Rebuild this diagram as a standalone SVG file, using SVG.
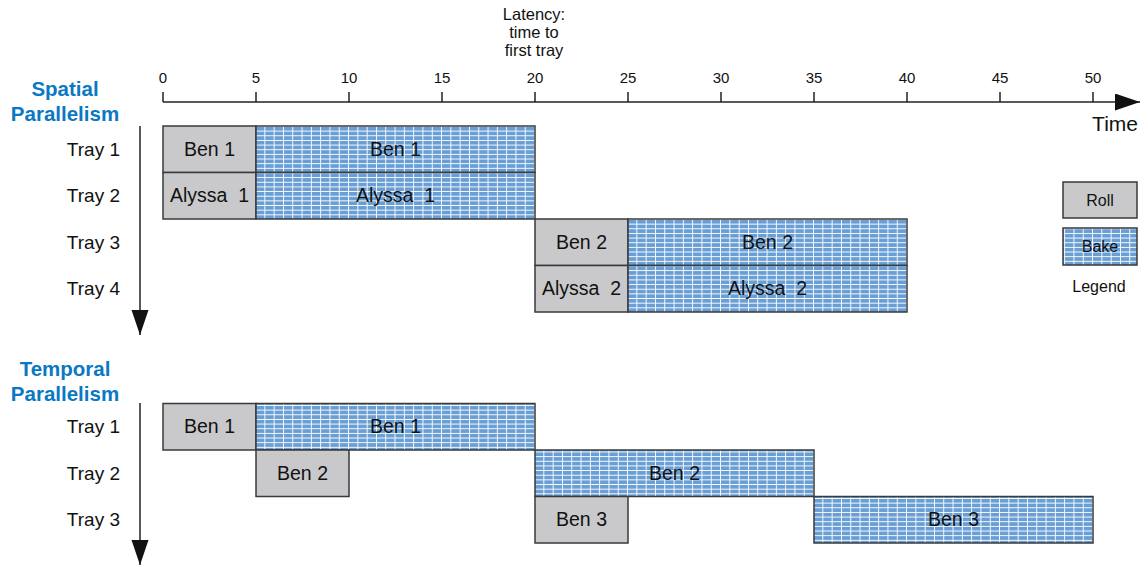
<svg xmlns="http://www.w3.org/2000/svg" width="1148" height="568" viewBox="0 0 1148 568">
<style>
text{font-family:"Liberation Sans",Arial,sans-serif;fill:#111;}
.tick{font-size:15px;text-anchor:middle;}
.tray{font-size:19px;text-anchor:end;}
.lbl{font-size:19.5px;text-anchor:middle;}
.lat{font-size:16.5px;text-anchor:middle;}
.title{font-size:20.5px;font-weight:bold;fill:#0a78c3;text-anchor:middle;}
.roll{fill:#c9c9cb;stroke:#3a3a3a;stroke-width:1.5;}
.bake{fill:url(#bakePat);stroke:#3a3a3a;stroke-width:1.5;}
.ax{stroke:#222;stroke-width:1.5;fill:none;}
</style>
<defs>
<pattern id="bakePat" patternUnits="userSpaceOnUse" x="256" y="126" width="9.3" height="4.65">
<rect width="9.3" height="4.65" fill="#ffffff"/>
<rect x="0" y="0.9" width="8.4" height="3.75" fill="#6a9fd6"/>
</pattern>
<marker id="ah" markerWidth="26" markerHeight="18" refX="25" refY="8.5" orient="auto" markerUnits="userSpaceOnUse">
<path d="M0,0 L25,8.5 L0,17 Z" fill="#111"/>
</marker>
</defs>

<g id="latency-note">
<text class="lat" x="534" y="20">Latency:</text>
<text class="lat" x="534" y="38">time to</text>
<text class="lat" x="534" y="56">first tray</text>
</g>

<g id="time-axis">
<line class="ax" x1="163" y1="102" x2="1140" y2="102" marker-end="url(#ah)"/>
<path class="ax" d="M163,92V102 M256,92V102 M349,92V102 M442,92V102 M535,92V102 M628,92V102 M721,92V102 M814,92V102 M907,92V102 M1000,92V102 M1093,92V102"/>
<text class="tick" x="163" y="83">0</text>
<text class="tick" x="256" y="83">5</text>
<text class="tick" x="349" y="83">10</text>
<text class="tick" x="442" y="83">15</text>
<text class="tick" x="535" y="83">20</text>
<text class="tick" x="628" y="83">25</text>
<text class="tick" x="721" y="83">30</text>
<text class="tick" x="814" y="83">35</text>
<text class="tick" x="907" y="83">40</text>
<text class="tick" x="1000" y="83">45</text>
<text class="tick" x="1093" y="83">50</text>
<text x="1138" y="131" font-size="21" text-anchor="end">Time</text>
</g>

<g id="spatial-label">
<text class="title" x="65" y="96">Spatial</text>
<text class="title" x="65" y="121">Parallelism</text>
</g>
<g id="spatial-trays">
<text class="tray" x="120" y="156">Tray 1</text>
<text class="tray" x="120" y="202">Tray 2</text>
<text class="tray" x="120" y="249">Tray 3</text>
<text class="tray" x="120" y="295">Tray 4</text>
</g>

<g id="temporal-label">
<text class="title" x="65" y="376">Temporal</text>
<text class="title" x="65" y="401">Parallelism</text>
</g>
<g id="temporal-trays">
<text class="tray" x="120" y="433">Tray 1</text>
<text class="tray" x="120" y="480">Tray 2</text>
<text class="tray" x="120" y="526">Tray 3</text>
</g>

<g id="connectors">
<line class="ax" x1="140" y1="126" x2="140" y2="335" marker-end="url(#ah)"/>
<line class="ax" x1="140" y1="403" x2="140" y2="565" marker-end="url(#ah)"/>
</g>

<g id="sp-ben1-roll"><rect class="roll" x="163" y="126" width="93" height="46.5"/><text class="lbl" x="209.5" y="156">Ben 1</text></g>
<g id="sp-ben1-bake"><rect class="bake" x="256" y="126" width="279" height="46.5"/><text class="lbl" x="395.5" y="156">Ben 1</text></g>
<g id="sp-alyssa1-roll"><rect class="roll" x="163" y="172.5" width="93" height="46.5"/><text class="lbl" x="209.5" y="202" xml:space="preserve">Alyssa  1</text></g>
<g id="sp-alyssa1-bake"><rect class="bake" x="256" y="172.5" width="279" height="46.5"/><text class="lbl" x="395.5" y="202" xml:space="preserve">Alyssa  1</text></g>
<g id="sp-ben2-roll"><rect class="roll" x="535" y="219" width="93" height="46.5"/><text class="lbl" x="581.5" y="249">Ben 2</text></g>
<g id="sp-ben2-bake"><rect class="bake" x="628" y="219" width="279" height="46.5"/><text class="lbl" x="767.5" y="249">Ben 2</text></g>
<g id="sp-alyssa2-roll"><rect class="roll" x="535" y="265.5" width="93" height="46.5"/><text class="lbl" x="581.5" y="295" xml:space="preserve">Alyssa  2</text></g>
<g id="sp-alyssa2-bake"><rect class="bake" x="628" y="265.5" width="279" height="46.5"/><text class="lbl" x="767.5" y="295" xml:space="preserve">Alyssa  2</text></g>

<g id="tp-ben1-roll"><rect class="roll" x="163" y="403.5" width="93" height="46.5"/><text class="lbl" x="209.5" y="433">Ben 1</text></g>
<g id="tp-ben1-bake"><rect class="bake" x="256" y="403.5" width="279" height="46.5"/><text class="lbl" x="395.5" y="433">Ben 1</text></g>
<g id="tp-ben2-roll"><rect class="roll" x="256" y="450" width="93" height="46.5"/><text class="lbl" x="302.5" y="480">Ben 2</text></g>
<g id="tp-ben2-bake"><rect class="bake" x="535" y="450" width="279" height="46.5"/><text class="lbl" x="674.5" y="480">Ben 2</text></g>
<g id="tp-ben3-roll"><rect class="roll" x="535" y="496.5" width="93" height="46.5"/><text class="lbl" x="581.5" y="526">Ben 3</text></g>
<g id="tp-ben3-bake"><rect class="bake" x="814" y="496.5" width="279" height="46.5"/><text class="lbl" x="953.5" y="526">Ben 3</text></g>

<g id="legend">
<rect class="roll" x="1063" y="182" width="74" height="36"/>
<text x="1100" y="206" font-size="16" text-anchor="middle">Roll</text>
<rect class="bake" x="1063" y="228" width="74" height="37"/>
<text x="1100" y="252" font-size="16" text-anchor="middle">Bake</text>
<text x="1099" y="292" font-size="16" text-anchor="middle">Legend</text>
</g>
</svg>
